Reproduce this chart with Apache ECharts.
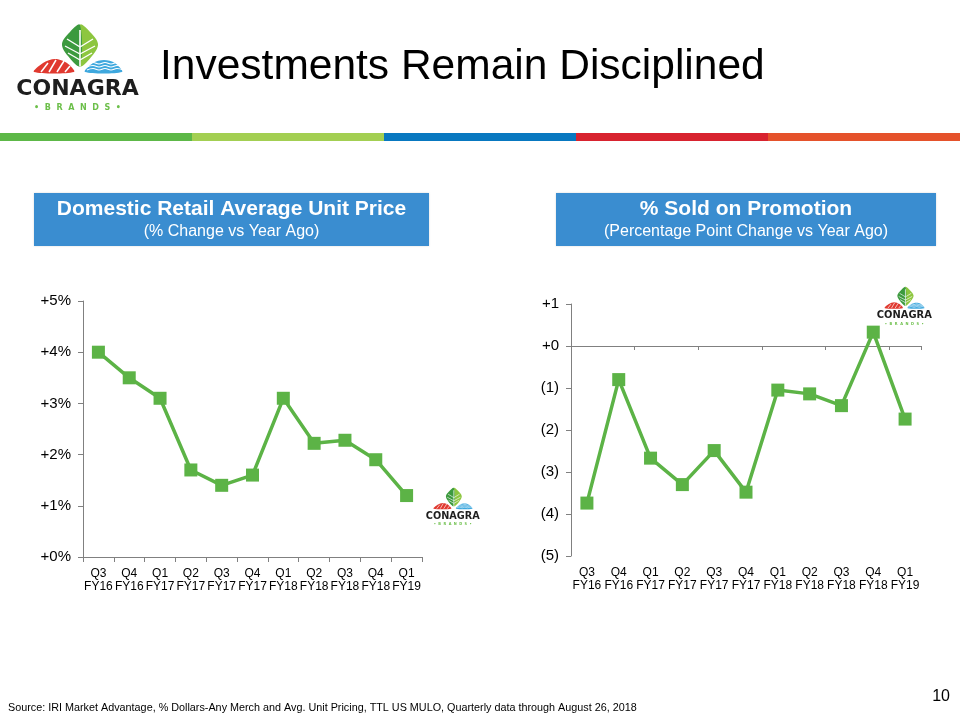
<!DOCTYPE html>
<html>
<head>
<meta charset="utf-8">
<script src="https://cdn.jsdelivr.net/npm/echarts@6/dist/echarts.min.js"></script>
<style>html,body{margin:0;padding:0;background:#fff}#c{width:960px;height:720px}</style>
</head>
<body>
<div id="c"></div>
<script>
// ---- data ----
var categories = ['Q3\nFY16','Q4\nFY16','Q1\nFY17','Q2\nFY17','Q3\nFY17','Q4\nFY17','Q1\nFY18','Q2\nFY18','Q3\nFY18','Q4\nFY18','Q1\nFY19'];
var unitPriceChange = [4.0, 3.5, 3.1, 1.7, 1.4, 1.6, 3.1, 2.22, 2.28, 1.9, 1.2];
var promoChange = [-3.74, -0.80, -2.67, -3.30, -2.49, -3.48, -1.05, -1.14, -1.42, 0.33, -1.74];
var leftTicks = {min: 0, max: 5, interval: 1};
var rightTicks = {min: -5, max: 1, interval: 1};
var titleText = 'Investments Remain Disciplined';
var leftHeader = ['Domestic Retail Average Unit Price', '(% Change vs Year Ago)'];
var rightHeader = ['% Sold on Promotion', '(Percentage Point Change vs Year Ago)'];
var sourceText = 'Source: IRI Market Advantage, % Dollars-Any Merch and Avg. Unit Pricing, TTL US MULO, Quarterly data through August 26, 2018';
var pageNum = '10';

var FONT = '"Liberation Sans", Arial, sans-serif';
var GREEN = '#5cb346';
var AXIS = '#808080';

function logo(x, y, s) {
  var ch = [];
  // leaf halves
  ch.push({type:'polygon', shape:{points:[[61,0],[71,7],[79,19],[73,31],[61,41]], smooth:0.35}, style:{fill:'#8dc63f'}});
  ch.push({type:'polygon', shape:{points:[[61,0],[51,7],[43,19],[49,31],[61,41]], smooth:0.35}, style:{fill:'#3c9a3e'}});
  ch.push({type:'line', shape:{x1:61, y1:5, x2:61, y2:41}, style:{stroke:'#fff', lineWidth:1.6}});
  [[48,14,22],[46,21,29],[49,28,35]].forEach(function(v){
    ch.push({type:'line', shape:{x1:v[0], y1:v[1], x2:61, y2:v[2]}, style:{stroke:'#fff', lineWidth:1.4}});
    ch.push({type:'line', shape:{x1:122 - v[0], y1:v[1], x2:61, y2:v[2]}, style:{stroke:'#fff', lineWidth:1.4}});
  });
  // red hill
  ch.push({type:'polygon', shape:{points:[[15,47],[24,38],[36,34],[48,38],[55,47]], smooth:0.3}, style:{fill:'#e0392f'}});
  [[22,47,29,38],[30,47,37,35],[38,47,45,36],[46,47,51,41]].forEach(function(p){
    ch.push({type:'line', shape:{x1:p[0], y1:p[1], x2:p[2], y2:p[3]}, style:{stroke:'#fff', lineWidth:1.5}});
  });
  // blue waves
  ch.push({type:'polygon', shape:{points:[[66,47],[74,38],[85,35],[96,38],[103,47]], smooth:0.3}, style:{fill:'#3ea8de'}});
  [39,42,45].forEach(function(yy){
    ch.push({type:'polyline', shape:{points:[[68,yy],[74,yy-1.5],[80,yy],[86,yy-1.5],[92,yy],[98,yy-1.5],[104,yy]], smooth:0.5}, style:{stroke:'#fff', fill:null, lineWidth:1.2}});
  });
  ch.push({type:'text', style:{x:58.5, y:64, text:'CONAGRA', font:'bold 22px "DejaVu Sans", sans-serif', fill:'#1e1e1e', textAlign:'center', textVerticalAlign:'middle'}});
  ch.push({type:'text', style:{x:58.5, y:83, text:'•  B  R  A  N  D  S  •', font:'bold 8px "DejaVu Sans", sans-serif', fill:'#6cbf4a', textAlign:'center', textVerticalAlign:'middle'}});
  return {type:'group', x:x, y:y, scaleX:s, scaleY:s, children:ch, silent:true};
}

var barColors = ['#5db847','#a3cf52','#0878c0','#d8232f','#e5522b'];
var graphics = [];
barColors.forEach(function(c, i){
  graphics.push({type:'rect', shape:{x:i*192, y:133, width:192, height:8}, style:{fill:c}});
});
graphics.push(logo(19, 25, 1));
graphics.push({type:'text', style:{x:160, y:67, text:titleText, font:'42.5px ' + FONT, fill:'#000', textVerticalAlign:'middle'}});

function header(x, w, lines) {
  return [
    {type:'rect', shape:{x:x, y:193, width:w, height:53}, style:{fill:'#3a8dd0', shadowBlur:2, shadowColor:'rgba(0,0,0,0.15)'}},
    {type:'text', style:{x:x + w/2, y:209, text:lines[0], font:'bold 21px ' + FONT, fill:'#fff', textAlign:'center', textVerticalAlign:'middle'}},
    {type:'text', style:{x:x + w/2, y:232, text:lines[1], font:'16px ' + FONT, fill:'#fff', textAlign:'center', textVerticalAlign:'middle'}}
  ];
}
graphics = graphics.concat(header(34, 395, leftHeader), header(556, 380, rightHeader));
graphics.push(logo(427, 488, 0.44));
graphics.push(logo(878, 287, 0.45));
graphics.push({type:'text', style:{x:8, y:708, text:sourceText, font:'10.8px ' + FONT, fill:'#000', textVerticalAlign:'middle'}});
graphics.push({type:'text', style:{x:950, y:697, text:pageNum, font:'16px ' + FONT, fill:'#000', textAlign:'right', textVerticalAlign:'middle'}});

var xLabel = {fontFamily: FONT, fontSize: 12, color: '#000', lineHeight: 13, margin: 10, interval: 0};

var chart = echarts.init(document.getElementById('c'), null, {renderer:'canvas'});
chart.setOption({
  animation: false,
  backgroundColor: '#fff',
  grid: [
    {left: 83, top: 301, width: 339, height: 256},
    {left: 571, top: 304, width: 350, height: 252}
  ],
  xAxis: [
    {gridIndex:0, type:'category', data:categories, position:'bottom',
     axisLine:{show:true, onZero:false, lineStyle:{color:AXIS, width:1}},
     axisTick:{show:true, length:5, lineStyle:{color:AXIS}},
     axisLabel:xLabel},
    {gridIndex:1, type:'category', data:categories, position:'bottom',
     axisLine:{show:false, onZero:false}, axisTick:{show:false},
     axisLabel:xLabel},
    {gridIndex:1, type:'category', data:categories, position:'bottom',
     axisLine:{show:true, onZero:true, lineStyle:{color:AXIS, width:1}},
     axisTick:{show:true, length:4, lineStyle:{color:AXIS}},
     axisLabel:{show:false}}
  ],
  yAxis: [
    {gridIndex:0, type:'value', min:leftTicks.min, max:leftTicks.max, interval:leftTicks.interval,
     splitLine:{show:false},
     axisLine:{show:true, lineStyle:{color:AXIS}},
     axisTick:{show:true, length:5, lineStyle:{color:AXIS}},
     axisLabel:{fontFamily:FONT, fontSize:15, color:'#000', margin:12,
       formatter:function(v){return '+' + v + '%';}}},
    {gridIndex:1, type:'value', min:rightTicks.min, max:rightTicks.max, interval:rightTicks.interval,
     splitLine:{show:false},
     axisLine:{show:true, lineStyle:{color:AXIS}},
     axisTick:{show:true, length:5, lineStyle:{color:AXIS}},
     axisLabel:{fontFamily:FONT, fontSize:15, color:'#000', margin:12,
       formatter:function(v){return v >= 0 ? '+' + v : '(' + (-v) + ')';}}}
  ],
  series: [
    {type:'line', xAxisIndex:0, yAxisIndex:0, data:unitPriceChange, symbol:'rect', symbolSize:13,
     lineStyle:{color:GREEN, width:3.5}, itemStyle:{color:GREEN}},
    {type:'line', xAxisIndex:1, yAxisIndex:1, data:promoChange, symbol:'rect', symbolSize:13,
     lineStyle:{color:GREEN, width:3.5}, itemStyle:{color:GREEN}}
  ],
  graphic: graphics
});
</script>
</body>
</html>
